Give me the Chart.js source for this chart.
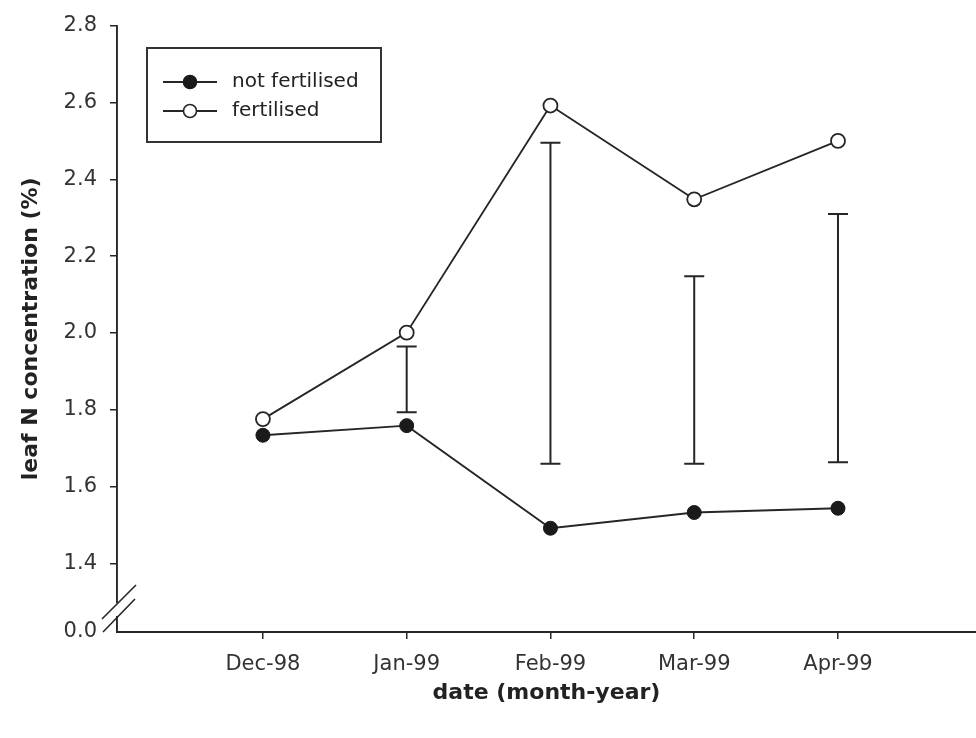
<!DOCTYPE html>
<html>
<head>
<meta charset="utf-8">
<script src="https://cdn.jsdelivr.net/npm/chart.js@4/dist/chart.umd.min.js"></script>
<style>
  html, body { margin: 0; padding: 0; background: #ffffff; }
  #wrap { width: 976px; height: 738px; }
</style>
</head>
<body>
<div id="wrap"><canvas id="chart" width="976" height="738"></canvas></div>
<script>
// Sampling dates (x positions 0..4)
const dateLabels = ['Dec-98', 'Jan-99', 'Feb-99', 'Mar-99', 'Apr-99'];

// Leaf N concentration (%)
const notFertilised = [1.734, 1.759, 1.492, 1.533, 1.544];
const fertilised    = [1.776, 2.001, 2.592, 2.348, 2.500];

// Least significant difference bars (null = none)
const lsdLow  = [null, 1.794, 1.660, 1.660, 1.664];
const lsdHigh = [null, 1.965, 2.495, 2.148, 2.310];

// Series names
const seriesNames = ['not fertilised', 'fertilised'];

// Y axis: broken axis, the bottom of the axis stands for 0.0
const yTicks = [1.4, 1.6, 1.8, 2.0, 2.2, 2.4, 2.6, 2.8];
const yBreakValue = 1.222;
const yBreakLabel = '0.0';

const INK = '#262626';
const FONT = "'DejaVu Sans', sans-serif";
Chart.defaults.font.family = FONT;
Chart.defaults.color = '#333333';

const toPoints = arr => arr.map((v, i) => ({ x: i, y: v }));

// Vertical bars with caps for the LSD values
const lsdBars = {
  id: 'lsdBars',
  afterDatasetsDraw(chart) {
    const { ctx, scales: { x, y } } = chart;
    ctx.save();
    ctx.strokeStyle = INK;
    ctx.lineWidth = 2;
    for (let i = 0; i < dateLabels.length; i++) {
      if (lsdLow[i] == null || lsdHigh[i] == null) continue;
      const px = x.getPixelForValue(i);
      const y1 = y.getPixelForValue(lsdLow[i]);
      const y2 = y.getPixelForValue(lsdHigh[i]);
      ctx.beginPath();
      ctx.moveTo(px, y1); ctx.lineTo(px, y2);
      ctx.moveTo(px - 10, y1); ctx.lineTo(px + 10, y1);
      ctx.moveTo(px - 10, y2); ctx.lineTo(px + 10, y2);
      ctx.stroke();
    }
    ctx.restore();
  }
};

// Axis break marks on the y axis and the boxed legend
const decorations = {
  id: 'decorations',
  afterDraw(chart) {
    const { ctx, chartArea } = chart;
    const ax = chartArea.left;
    const b = chartArea.bottom;
    ctx.save();
    // gap in the axis line
    ctx.fillStyle = '#ffffff';
    ctx.fillRect(ax - 4, b - 29, 8, 13);
    // two slanted strokes
    ctx.strokeStyle = INK;
    ctx.lineWidth = 1.6;
    ctx.beginPath();
    ctx.moveTo(ax - 15, b - 13); ctx.lineTo(ax + 19, b - 47);
    ctx.moveTo(ax - 14, b + 0); ctx.lineTo(ax + 18, b - 33);
    ctx.stroke();

    // legend box
    const lx = ax + 30, ly = 48, lw = 234, lh = 94;
    ctx.lineWidth = 2;
    ctx.strokeStyle = '#333333';
    ctx.strokeRect(lx, ly, lw, lh);
    const rows = [ly + 34, ly + 63];
    chart.data.datasets.forEach((ds, i) => {
      const ry = rows[i];
      ctx.strokeStyle = ds.borderColor;
      ctx.lineWidth = 1.8;
      ctx.beginPath();
      ctx.moveTo(lx + 16, ry); ctx.lineTo(lx + 70, ry);
      ctx.stroke();
      ctx.beginPath();
      ctx.arc(lx + 43, ry, 6.5, 0, Math.PI * 2);
      ctx.fillStyle = ds.pointBackgroundColor;
      ctx.fill();
      ctx.lineWidth = 1.6;
      ctx.strokeStyle = ds.pointBorderColor;
      ctx.stroke();
      ctx.fillStyle = '#222222';
      ctx.font = '20px ' + FONT;
      ctx.textBaseline = 'middle';
      ctx.textAlign = 'left';
      ctx.fillText(ds.label, lx + 85, ry);
    });
    ctx.restore();
  }
};

new Chart(document.getElementById('chart'), {
  type: 'line',
  data: {
    datasets: [
      {
        label: seriesNames[0],
        data: toPoints(notFertilised),
        borderColor: INK,
        borderWidth: 1.9,
        pointRadius: 7,
        pointBackgroundColor: '#1a1a1a',
        pointBorderColor: '#1a1a1a',
        pointBorderWidth: 1,
        tension: 0
      },
      {
        label: seriesNames[1],
        data: toPoints(fertilised),
        borderColor: INK,
        borderWidth: 1.9,
        pointRadius: 7,
        pointBackgroundColor: '#ffffff',
        pointBorderColor: INK,
        pointBorderWidth: 1.8,
        tension: 0
      }
    ]
  },
  options: {
    responsive: false,
    animation: false,
    layout: { autoPadding: false, padding: { top: 20, right: 0, left: 0, bottom: 0 } },
    plugins: { legend: { display: false }, tooltip: { enabled: false } },
    scales: {
      x: {
        type: 'linear',
        min: -1.015,
        max: 4.96,
        afterBuildTicks: s => { s.ticks = dateLabels.map((_, i) => ({ value: i })); },
        afterFit: s => { s.height = 106; s.paddingLeft = 0; s.paddingRight = 0; },
        ticks: {
          callback: v => dateLabels[v] ?? '',
          font: { size: 21 },
          color: '#333333',
          padding: 13,
          maxRotation: 0,
          autoSkip: false
        },
        grid: { drawOnChartArea: false, drawTicks: true, tickLength: 7, color: INK, lineWidth: 1.5 },
        border: { display: true, color: INK, width: 1.9 },
        title: {
          display: true,
          text: 'date (month-year)',
          font: { size: 22, weight: 'bold' },
          color: '#222222',
          padding: { top: 0, bottom: 32 }
        }
      },
      y: {
        type: 'linear',
        min: yBreakValue,
        max: 2.8,
        afterBuildTicks: s => {
          s.ticks = [yBreakValue, ...yTicks].map(v => ({ value: v }));
        },
        afterFit: s => { s.width = 117; },
        ticks: {
          callback: v => (v === yBreakValue ? yBreakLabel : v.toFixed(1)),
          font: { size: 21 },
          color: '#333333',
          padding: 13,
          autoSkip: false
        },
        grid: {
          drawOnChartArea: false,
          drawTicks: true,
          tickLength: 7,
          lineWidth: 1.5,
          color: ctx => (ctx.tick && ctx.tick.value === yBreakValue ? 'rgba(0,0,0,0)' : INK)
        },
        border: { display: true, color: INK, width: 1.9 },
        title: {
          display: true,
          text: 'leaf N concentration (%)',
          font: { size: 22, weight: 'bold' },
          color: '#222222',
          padding: { top: 18, bottom: 0 }
        }
      }
    }
  },
  plugins: [lsdBars, decorations]
});
</script>
</body>
</html>
